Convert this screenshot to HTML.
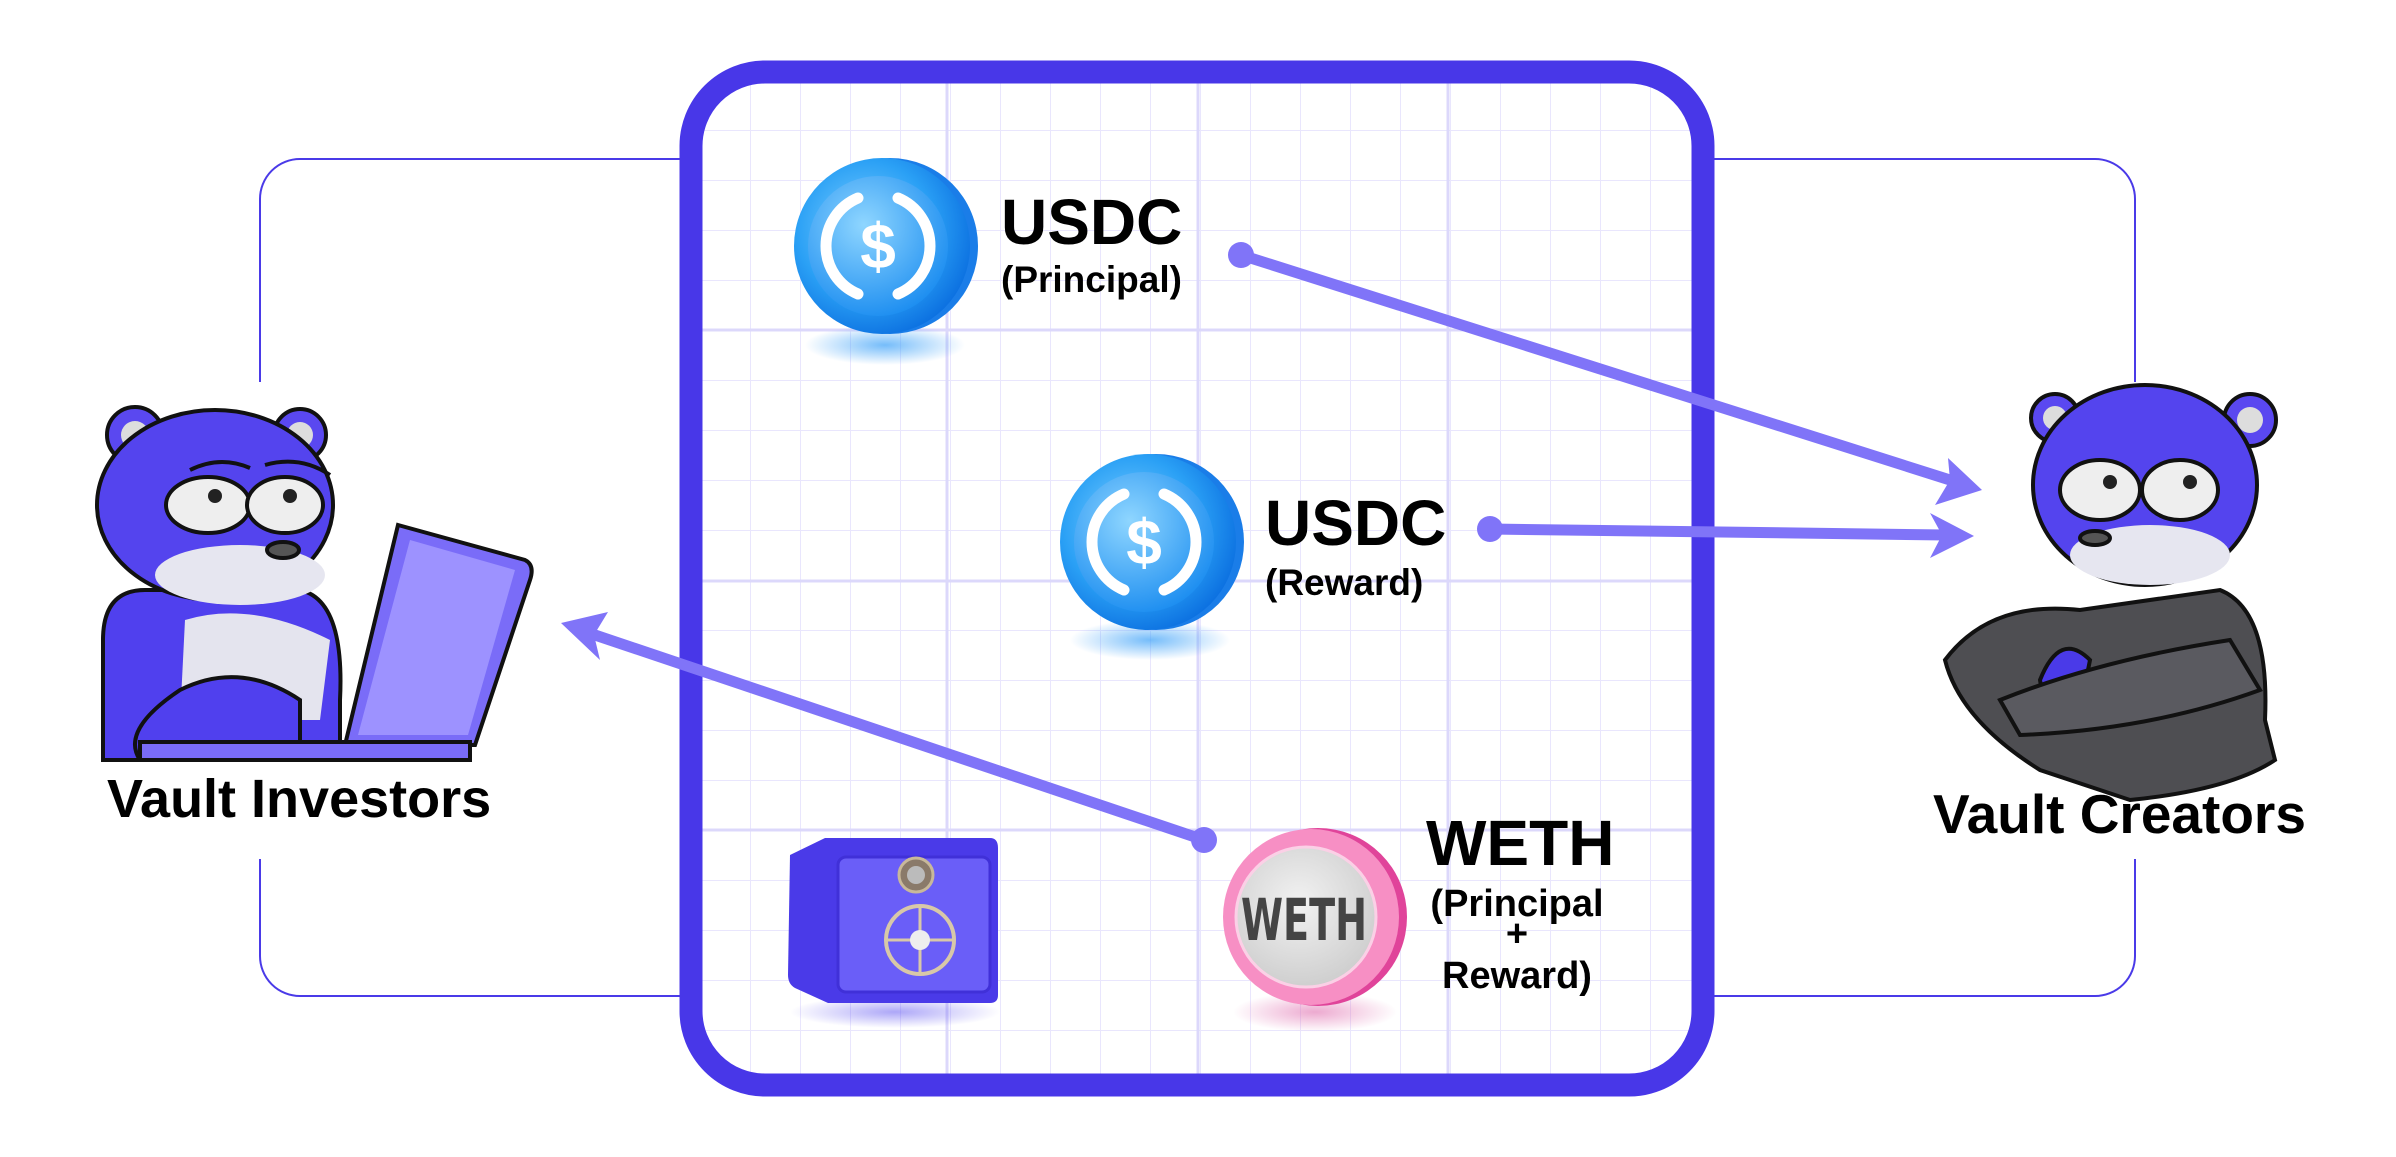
<!DOCTYPE html>
<html><head><meta charset="utf-8"><style>
html,body{margin:0;padding:0;background:#fff;}
svg{display:block;}
text{font-family:"Liberation Sans",Arial,sans-serif;font-weight:bold;fill:#000;}
</style></head><body>
<svg width="2396" height="1157" viewBox="0 0 2396 1157" xmlns="http://www.w3.org/2000/svg">
<defs>
<pattern id="minor" x="0" y="30" width="50" height="50" patternUnits="userSpaceOnUse">
<path d="M0 0H50M0 0V50" stroke="#e9e6fd" stroke-width="2" fill="none"/>
</pattern>
<clipPath id="inner"><rect x="702" y="83" width="990" height="991" rx="64"/></clipPath>
<radialGradient id="blue" cx="40%" cy="40%" r="65%"><stop offset="0" stop-color="#7fd0ff"/><stop offset="0.6" stop-color="#2aa0f5"/><stop offset="1" stop-color="#0b6fe0"/></radialGradient>
<radialGradient id="bluein" cx="40%" cy="35%" r="70%"><stop offset="0" stop-color="#8fd6ff"/><stop offset="1" stop-color="#1a8cf0"/></radialGradient>
<radialGradient id="shB" cx="50%" cy="50%" r="50%"><stop offset="0" stop-color="#3aa0f8" stop-opacity=".7"/><stop offset="1" stop-color="#3aa0f8" stop-opacity="0"/></radialGradient>
<radialGradient id="shP" cx="50%" cy="50%" r="50%"><stop offset="0" stop-color="#e070b0" stop-opacity=".6"/><stop offset="1" stop-color="#e070b0" stop-opacity="0"/></radialGradient>
<radialGradient id="shV" cx="50%" cy="50%" r="50%"><stop offset="0" stop-color="#5a4ef0" stop-opacity=".5"/><stop offset="1" stop-color="#5a4ef0" stop-opacity="0"/></radialGradient>
<radialGradient id="grey" cx="45%" cy="40%" r="60%"><stop offset="0" stop-color="#f2f2f2"/><stop offset="1" stop-color="#cfcfcf"/></radialGradient>
</defs>

<path d="M700 159H300a40 40 0 0 0-40 40V382M260 859V956a40 40 0 0 0 40 40H700" fill="none" stroke="#4a3ae8" stroke-width="2"/>
<path d="M1700 159H2095a40 40 0 0 1 40 40V382M2135 859V956a40 40 0 0 1-40 40H1700" fill="none" stroke="#4a3ae8" stroke-width="2"/>

<rect x="702" y="83" width="990" height="991" rx="64" fill="#fff"/>
<g clip-path="url(#inner)">
<rect x="690" y="70" width="1020" height="1020" fill="url(#minor)"/>
<g stroke="#dcd8fb" stroke-width="3">
<line x1="690" y1="330" x2="1700" y2="330"/><line x1="690" y1="581" x2="1700" y2="581"/><line x1="690" y1="830" x2="1700" y2="830"/>
<line x1="947" y1="70" x2="947" y2="1090"/><line x1="1198" y1="70" x2="1198" y2="1090"/><line x1="1448" y1="70" x2="1448" y2="1090"/>
</g>
</g>
<rect x="691" y="72" width="1012" height="1013" rx="74" fill="none" stroke="#4837e8" stroke-width="23"/>

<ellipse cx="885" cy="345" rx="80" ry="20" fill="url(#shB)"/>
<circle cx="890" cy="246" r="88" fill="#1a7de8"/>
<circle cx="882" cy="246" r="88" fill="url(#blue)"/>
<circle cx="878" cy="246" r="70" fill="url(#bluein)"/>
<path d="M858 198a52 52 0 0 0 0 96M898 198a52 52 0 0 1 0 96" fill="none" stroke="#fff" stroke-width="11" stroke-linecap="round"/>
<text x="878" y="268" font-size="64" text-anchor="middle" style="fill:#fff">$</text>
<text x="1001" y="244" font-size="64">USDC</text>
<text x="1001" y="292" font-size="37">(Principal)</text>

<ellipse cx="1150" cy="640" rx="80" ry="20" fill="url(#shB)"/>
<circle cx="1156" cy="542" r="88" fill="#1a7de8"/>
<circle cx="1148" cy="542" r="88" fill="url(#blue)"/>
<circle cx="1144" cy="542" r="70" fill="url(#bluein)"/>
<path d="M1124 494a52 52 0 0 0 0 96M1164 494a52 52 0 0 1 0 96" fill="none" stroke="#fff" stroke-width="11" stroke-linecap="round"/>
<text x="1144" y="564" font-size="64" text-anchor="middle" style="fill:#fff">$</text>
<text x="1265" y="545" font-size="64">USDC</text>
<text x="1265" y="595" font-size="37">(Reward)</text>

<ellipse cx="895" cy="1012" rx="105" ry="16" fill="url(#shV)"/>
<path d="M790 855 L825 838 H990 Q998 838 998 848 V995 Q998 1003 990 1003 H828 L795 988 Q788 984 788 975 Z" fill="#4a3ae8"/>
<rect x="838" y="857" width="152" height="135" rx="8" fill="#6a5ef8" stroke="#4030d8" stroke-width="3"/>
<circle cx="916" cy="875" r="17" fill="#8a7a6a" stroke="#c8b89a" stroke-width="3"/>
<circle cx="916" cy="875" r="9" fill="#bbb"/>
<circle cx="920" cy="940" r="34" fill="none" stroke="#d8c8a8" stroke-width="4"/>
<path d="M920 906V974M886 940H954" stroke="#d8c8a8" stroke-width="3"/>
<circle cx="920" cy="940" r="10" fill="#eee"/>

<ellipse cx="1315" cy="1012" rx="82" ry="20" fill="url(#shP)"/>
<circle cx="1318" cy="917" r="89" fill="#e0449a"/>
<circle cx="1311" cy="917" r="88" fill="#f78fc4"/>
<circle cx="1306" cy="917" r="70" fill="url(#grey)" stroke="#fbd0e6" stroke-width="3"/>
<text x="1304" y="940" font-size="58" text-anchor="middle" style="fill:#444;font-family:'DejaVu Sans Condensed','Liberation Sans Narrow',sans-serif" textLength="126" lengthAdjust="spacingAndGlyphs">WETH</text>
<text x="1426" y="865" font-size="64">WETH</text>
<text x="1517" y="916" font-size="38" text-anchor="middle">(Principal</text>
<text x="1517" y="946" font-size="38" text-anchor="middle">+</text>
<text x="1517" y="988" font-size="38" text-anchor="middle">Reward)</text>

<g fill="#8074f8" stroke="#8074f8">
<line x1="1241" y1="255" x2="1950" y2="480" stroke-width="11"/>
<circle cx="1241" cy="255" r="13" stroke="none"/>
<polygon points="1982,490 1935,505 1950,480 1948,458" stroke="none"/>
<line x1="1490" y1="529" x2="1945" y2="535" stroke-width="11"/>
<circle cx="1490" cy="529" r="13" stroke="none"/>
<polygon points="1974,536 1930,558 1942,535 1930,513" stroke="none"/>
<line x1="1204" y1="840" x2="592" y2="634" stroke-width="11"/>
<circle cx="1204" cy="840" r="13" stroke="none"/>
<polygon points="561,623 608,612 594,635 600,660" stroke="none"/>
</g>

<g stroke="#111" stroke-width="4">
<circle cx="135" cy="435" r="28" fill="#5a48f0"/><circle cx="135" cy="435" r="14" fill="#ddd" stroke="none"/>
<circle cx="300" cy="435" r="26" fill="#5a48f0"/><circle cx="300" cy="435" r="13" fill="#ddd" stroke="none"/>
<path d="M103 760 V640 Q103 590 145 590 H300 Q345 600 340 700 V760 Z" fill="#5040ee"/>
<path d="M185 620 Q250 600 330 640 L320 720 H180 Z" fill="#e4e4ee" stroke="none"/>
<ellipse cx="215" cy="505" rx="118" ry="95" fill="#5444ee"/>
<ellipse cx="240" cy="575" rx="85" ry="30" fill="#e6e6f0" stroke="none"/>
<ellipse cx="208" cy="505" rx="42" ry="28" fill="#eee"/><ellipse cx="285" cy="505" rx="38" ry="28" fill="#eee"/>
<circle cx="215" cy="496" r="7" fill="#222" stroke="none"/><circle cx="290" cy="496" r="7" fill="#222" stroke="none"/>
<ellipse cx="283" cy="550" rx="16" ry="8" fill="#555"/>
<path d="M190 470 Q220 455 250 468M265 465 Q300 455 330 475" fill="none"/>
<path d="M180 690 Q240 660 300 700 L300 760 H140 Q120 730 180 690 Z" fill="#5040ee"/>
<path d="M398 525 L525 560 Q535 565 530 580 L475 745 H345 Z" fill="#7a6cf8"/>
<path d="M410 540 L515 570 L468 735 L358 735 Z" fill="#9d92ff" stroke="none"/>
<path d="M140 742 H470 V760 H140 Z" fill="#7a6cf8"/>
</g>
<text x="107" y="817" font-size="54">Vault Investors</text>

<g stroke="#111" stroke-width="4">
<circle cx="2055" cy="418" r="24" fill="#5a48f0"/><circle cx="2055" cy="418" r="12" fill="#ddd" stroke="none"/>
<circle cx="2250" cy="420" r="26" fill="#5a48f0"/><circle cx="2250" cy="420" r="13" fill="#ddd" stroke="none"/>
<path d="M1945 660 Q1990 600 2080 610 L2220 590 Q2270 610 2265 720 L2275 760 Q2230 790 2130 800 L2040 770 Q1960 720 1945 660 Z" fill="#4e4e52"/>
<ellipse cx="2145" cy="485" rx="112" ry="100" fill="#5444ee"/>
<ellipse cx="2150" cy="555" rx="80" ry="30" fill="#e6e6f0" stroke="none"/>
<ellipse cx="2100" cy="490" rx="40" ry="30" fill="#eee"/><ellipse cx="2180" cy="490" rx="38" ry="30" fill="#eee"/>
<circle cx="2110" cy="482" r="7" fill="#222" stroke="none"/><circle cx="2190" cy="482" r="7" fill="#222" stroke="none"/>
<ellipse cx="2095" cy="538" rx="15" ry="7" fill="#555"/>
<path d="M2040 680 Q2060 630 2090 660 L2080 710 Q2045 715 2040 680 Z" fill="#4a3ae8"/>
<path d="M2000 700 Q2100 660 2230 640 L2260 690 Q2150 730 2020 735 Z" fill="#5a5a60"/>
</g>
<text x="1933" y="833" font-size="55">Vault Creators</text>
</svg>
</body></html>
